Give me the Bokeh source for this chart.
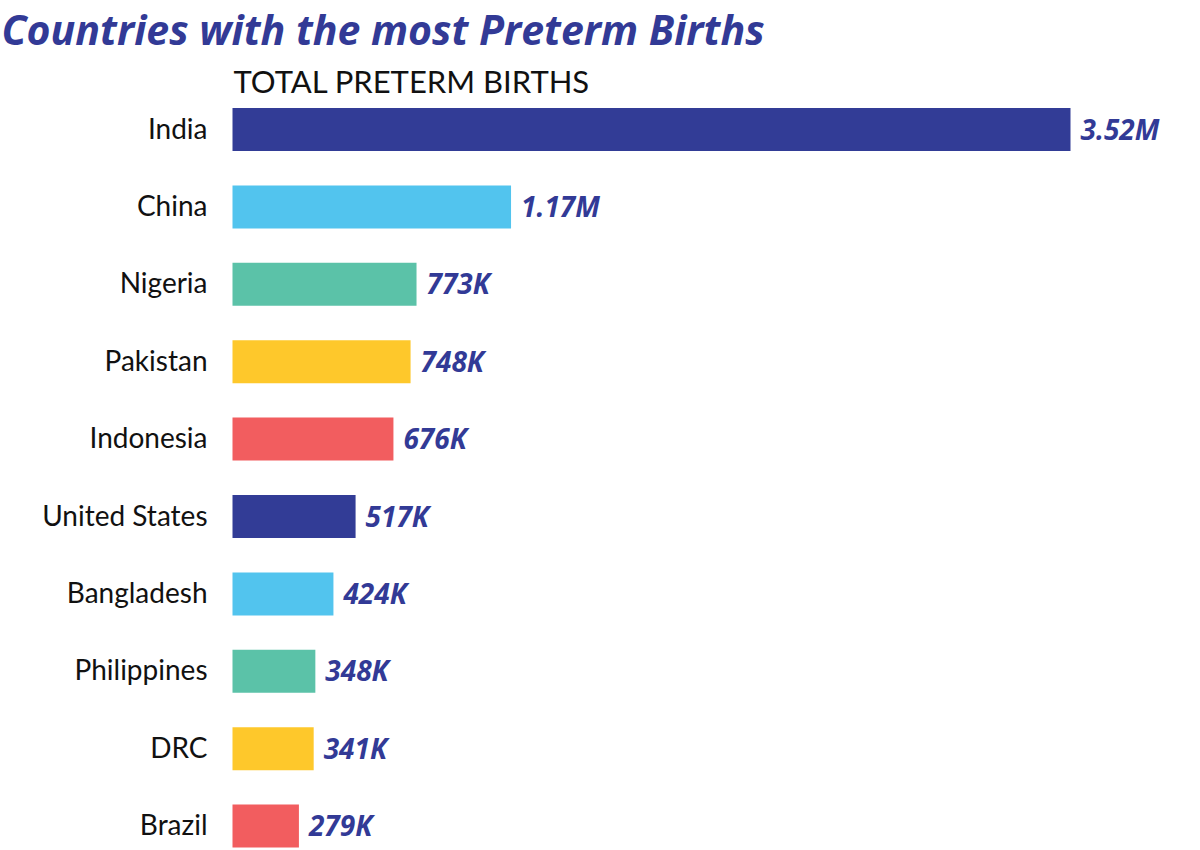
from bokeh.plotting import figure
from bokeh.models import Range1d, ColumnDataSource, Label
from bokeh.core.properties import value
from bokeh.embed import file_html
from bokeh.resources import INLINE

countries = ["India", "China", "Nigeria", "Pakistan", "Indonesia",
             "United States", "Bangladesh", "Philippines", "DRC", "Brazil"]
births = [3520000, 1170000, 773000, 748000, 676000,
          517000, 424000, 348000, 341000, 279000]
value_labels = ["3.52M", "1.17M", "773K", "748K", "676K",
                "517K", "424K", "348K", "341K", "279K"]
bar_colors = ["#323C96", "#52C4EE", "#5BC2A8", "#FEC82B", "#F25D5F",
              "#323C96", "#52C4EE", "#5BC2A8", "#FEC82B", "#F25D5F"]

TITLE = "Countries with the most Preterm Births"
SUBTITLE = "TOTAL PRETERM BIRTHS"
DARK = "#323A96"

W, H = 1200, 850
bar_left_px = 232
px_per_unit = 838 / 3520000
row0_px = 129
row_step_px = 77.4

x_start = -bar_left_px / px_per_unit
x_end = (W - bar_left_px) / px_per_unit
y_top = -row0_px / row_step_px
y_bottom = (H - row0_px) / row_step_px

idx = list(range(len(countries)))
src = ColumnDataSource(dict(y=idx, v=births, c=bar_colors, name=countries,
                            lab=value_labels, zero=[0] * len(idx)))

p = figure(width=W, height=H, output_backend="svg", toolbar_location=None,
           x_range=Range1d(x_start, x_end), y_range=Range1d(y_bottom, y_top),
           min_border=0, outline_line_color=None)
p.axis.visible = False
p.grid.visible = False
p.background_fill_color = "white"
p.border_fill_color = "white"

p.hbar(y="y", left=0, right="v", height=0.555, fill_color="c",
       line_color=None, source=src)

p.text(x="v", y="y", text="lab", source=src, x_offset=10, y_offset=-1,
       text_font=value("Open Sans"), text_font_style="bold italic",
       text_font_size="28px", text_color=DARK, text_baseline="middle",
       text_align="left")

p.text(x="zero", y="y", text="name", source=src, x_offset=-25, y_offset=-2,
       text_font=value("Lato"), text_font_size="28px", text_color="#111111",
       text_baseline="middle", text_align="right")

p.add_layout(Label(x=1, y=H, x_units="screen", y_units="screen",
                   text=TITLE, text_font="Open Sans", text_font_style="bold italic",
                   text_font_size="41px", text_color=DARK,
                   text_baseline="top", text_align="left"))
p.add_layout(Label(x=233, y=H - 61, x_units="screen", y_units="screen",
                   text=SUBTITLE, text_font="Lato", text_font_size="31px",
                   text_color="#111111", text_baseline="top", text_align="left"))

open("out.html", "w").write(file_html(p, INLINE))
